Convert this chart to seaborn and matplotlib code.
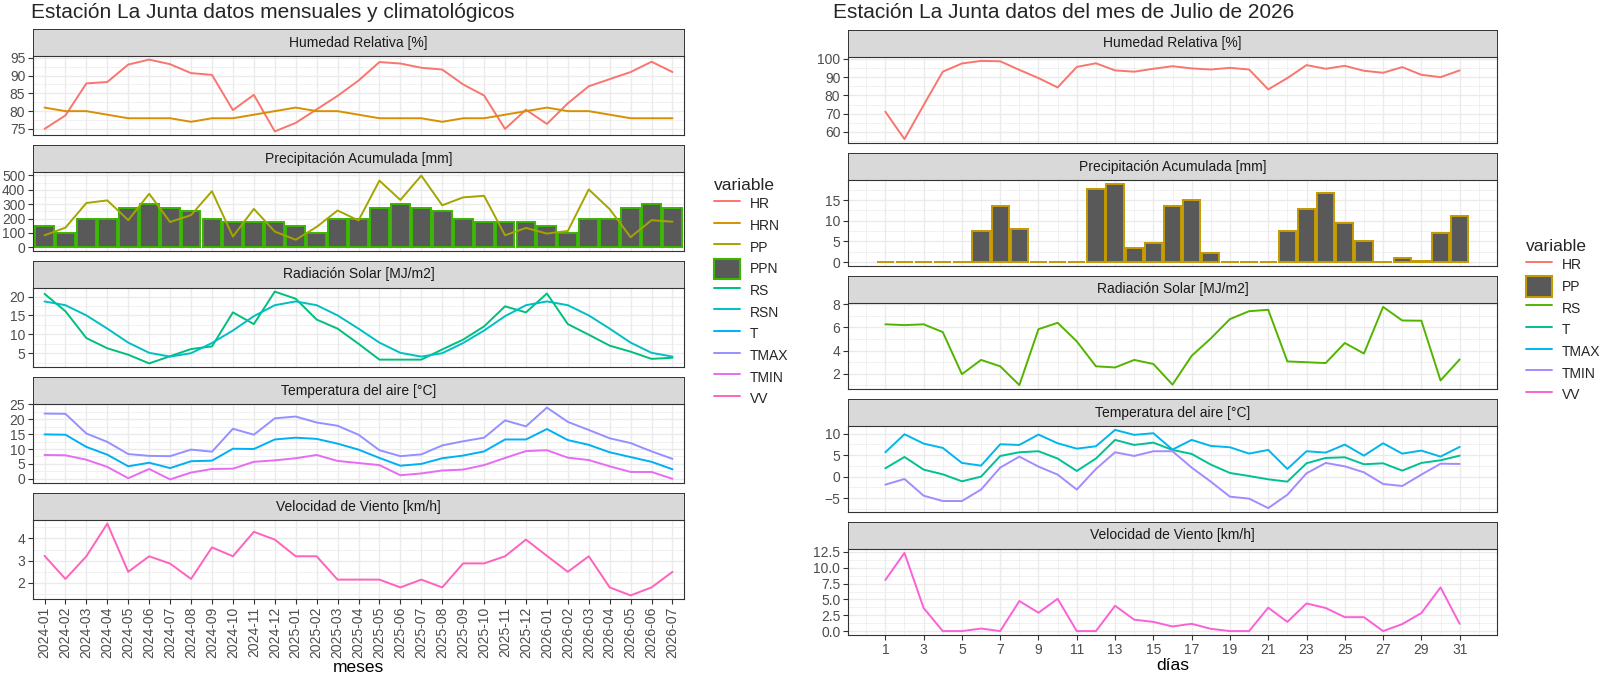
import matplotlib
matplotlib.use("Agg")
import pandas as pd
import matplotlib.pyplot as plt
import matplotlib.patches as mpatches
from matplotlib.lines import Line2D
from matplotlib.ticker import MultipleLocator, FormatStrFormatter
import seaborn as sns

sns.set_style("whitegrid")
plt.rcParams['font.family'] = ['Liberation Sans', 'DejaVu Sans']

# ------------------------------
# datos mensuales (izquierda)
# ------------------------------
meses = ['2024-01', '2024-02', '2024-03', '2024-04', '2024-05', '2024-06', '2024-07',
         '2024-08', '2024-09', '2024-10', '2024-11', '2024-12', '2025-01', '2025-02',
         '2025-03', '2025-04', '2025-05', '2025-06', '2025-07', '2025-08', '2025-09',
         '2025-10', '2025-11', '2025-12', '2026-01', '2026-02', '2026-03', '2026-04',
         '2026-05', '2026-06', '2026-07']

hr = [75.0, 78.8, 87.8, 88.2, 93.1, 94.5, 93.2, 90.7, 90.2, 80.3, 84.6, 74.3, 76.7, 80.5,
      84.3, 88.6, 93.8, 93.4, 92.2, 91.7, 87.5, 84.4, 75.0, 80.4, 76.4, 82.2, 87.0, 89.0,
      91.0, 93.9, 91.0]
hrn = [81, 80, 80, 79, 78, 78, 78, 77, 78, 78, 79, 80, 81, 80, 80, 79, 78, 78, 78, 77, 78,
       78, 79, 80, 81, 80, 80, 79, 78, 78, 78]
pp = [84, 137, 308, 326, 189, 372, 176, 224, 390, 75, 267, 110, 53, 142, 256, 187, 463,
      329, 498, 292, 347, 358, 84, 135, 96, 114, 402, 265, 71, 189, 178]
ppn = [150, 100, 200, 200, 275, 300, 275, 250, 200, 175, 175, 175, 150, 100, 200, 200, 275,
       300, 275, 250, 200, 175, 175, 175, 150, 100, 200, 200, 275, 300, 275]
rs = [20.7, 16.1, 9.0, 6.3, 4.6, 2.3, 4.2, 6.1, 6.8, 15.8, 12.7, 21.3, 19.4, 13.9, 11.5,
      7.5, 3.3, 3.3, 3.3, 6.0, 8.6, 12.1, 17.4, 15.8, 20.8, 12.7, 9.9, 7.0, 5.4, 3.5, 3.8]
rsn = [18.7, 17.7, 15.0, 11.5, 7.8, 5.1, 4.1, 5.0, 7.7, 11.0, 14.8, 17.7, 18.7, 17.7, 15.0,
       11.5, 7.8, 5.1, 4.1, 5.0, 7.7, 11.0, 14.8, 17.7, 18.7, 17.7, 15.0, 11.5, 7.8, 5.1, 4.1]
t_mes = [14.9, 14.8, 10.7, 8.1, 4.2, 5.4, 3.6, 5.9, 6.1, 10.1, 10.0, 13.2, 13.8, 13.4, 11.8,
         9.8, 7.0, 4.4, 5.0, 6.9, 7.8, 9.2, 13.2, 13.2, 16.7, 13.0, 11.4, 8.9, 7.3, 5.7, 3.2]
tmax_mes = [21.9, 21.8, 15.2, 12.4, 8.3, 7.7, 7.6, 9.8, 9.1, 16.8, 14.8, 20.3, 20.9, 18.9,
            17.8, 14.8, 9.6, 7.6, 8.2, 11.2, 12.6, 13.8, 19.6, 17.6, 23.9, 19.1, 16.4, 13.6,
            12.0, 9.2, 6.7]
tmin_mes = [8.0, 7.9, 6.4, 4.0, 0.2, 3.3, -0.2, 2.1, 3.3, 3.4, 5.7, 6.2, 6.9, 8.0, 6.0, 5.3,
            4.6, 1.2, 1.8, 2.8, 3.1, 4.6, 7.0, 9.3, 9.6, 7.1, 6.3, 4.2, 2.3, 2.3, 0.0]
vv_mes = [3.22, 2.18, 3.2, 4.67, 2.5, 3.2, 2.87, 2.18, 3.6, 3.2, 4.3, 3.95, 3.2, 3.2, 2.15,
          2.15, 2.15, 1.8, 2.15, 1.8, 2.88, 2.88, 3.2, 3.95, 3.22, 2.5, 3.2, 1.8, 1.44, 1.8, 2.5]

# ------------------------------
# datos diarios julio 2026 (derecha)
# ------------------------------
dias = list(range(1, 32))

hr_dia = [71.1, 56.1, 74.7, 93.0, 97.5, 98.9, 98.7, 94.0, 89.5, 84.4, 95.6, 97.6, 93.7, 93.0,
          94.6, 96.0, 94.8, 94.2, 95.1, 94.2, 83.3, 89.5, 96.6, 94.6, 96.2, 93.5, 92.4, 95.5,
          91.3, 90.0, 93.7]
pp_dia = [0.0, 0.0, 0.0, 0.0, 0.1, 7.6, 13.6, 8.0, 0.0, 0.0, 0.0, 17.6, 18.9, 3.5, 4.6, 13.6,
          15.1, 2.2, 0.1, 0.1, 0.0, 7.6, 12.8, 16.8, 9.5, 5.0, 0.0, 1.0, 0.3, 7.1, 11.1]
rs_dia = [6.27, 6.2, 6.27, 5.6, 1.97, 3.2, 2.65, 1.03, 5.85, 6.4, 4.8, 2.65, 2.55, 3.2, 2.85,
          1.07, 3.55, 5.05, 6.72, 7.4, 7.52, 3.07, 3.0, 2.93, 4.66, 3.75, 7.77, 6.6, 6.58,
          1.43, 3.24]
t_dia = [1.94, 4.57, 1.63, 0.54, -1.08, 0.0, 4.8, 5.66, 5.9, 4.2, 1.32, 4.2, 8.53, 7.36, 7.9,
         6.2, 5.27, 2.8, 0.85, 0.15, -0.62, -1.16, 3.1, 4.34, 4.5, 2.87, 3.1, 1.4, 3.18, 3.8,
         4.88]
tmax_dia = [5.66, 9.84, 7.67, 6.67, 3.18, 2.56, 7.52, 7.36, 9.77, 7.75, 6.5, 7.05, 10.85, 9.7,
            10.08, 6.28, 8.53, 7.13, 6.82, 5.35, 6.2, 1.78, 5.9, 5.58, 7.44, 4.88, 7.75, 5.35,
            6.05, 4.65, 6.9]
tmin_dia = [-1.86, -0.54, -4.42, -5.66, -5.66, -3.0, 2.1, 4.65, 2.33, 0.47, -3.0, 1.78, 5.66,
            4.8, 5.9, 5.9, 2.1, -1.16, -4.65, -5.1, -7.3, -4.2, 0.78, 3.18, 2.4, 1.0, -1.7,
            -2.17, 0.47, 3.0, 2.95]
vv_dia = [8.07, 12.35, 3.65, 0.0, 0.0, 0.4, 0.0, 4.75, 2.9, 5.1, 0.0, 0.0, 4.0, 1.8, 1.45,
          0.73, 1.15, 0.36, 0.0, 0.0, 3.7, 1.45, 4.37, 3.65, 2.2, 2.2, 0.0, 1.1, 2.85, 6.9, 1.15]

vars_izq = ['HR', 'HRN', 'PP', 'PPN', 'RS', 'RSN', 'T', 'TMAX', 'TMIN', 'VV']
pal_izq = dict(zip(vars_izq, ["#F8766D", "#D89000", "#A3A500", "#39B600", "#00BF7D",
                              "#00BFC4", "#00B0F6", "#9590FF", "#E76BF3", "#FF62BC"]))
vars_der = ['HR', 'PP', 'RS', 'T', 'TMAX', 'TMIN', 'VV']
pal_der = dict(zip(vars_der, ["#F8766D", "#C49A00", "#53B400", "#00C094", "#00B6EB",
                              "#A58AFF", "#FB61D7"]))

facetas = ['Humedad Relativa [%]', 'Precipitación Acumulada [mm]', 'Radiación Solar [MJ/m2]',
           'Temperatura del aire [°C]', 'Velocidad de Viento [km/h]']


def largo(x, series):
    rows = []
    for name, vals in series.items():
        for xi, v in zip(x, vals):
            rows.append({'x': xi, 'variable': name, 'valor': v})
    return pd.DataFrame(rows)


x_mes = list(range(len(meses)))
izq = [
    (largo(x_mes, {'HR': hr, 'HRN': hrn}), None, [75, 80, 85, 90, 95]),
    (largo(x_mes, {'PP': pp}), largo(x_mes, {'PPN': ppn}), [0, 100, 200, 300, 400, 500]),
    (largo(x_mes, {'RS': rs, 'RSN': rsn}), None, [5, 10, 15, 20]),
    (largo(x_mes, {'T': t_mes, 'TMAX': tmax_mes, 'TMIN': tmin_mes}), None, [0, 5, 10, 15, 20, 25]),
    (largo(x_mes, {'VV': vv_mes}), None, [2, 3, 4]),
]
der = [
    (largo(dias, {'HR': hr_dia}), None, [60, 70, 80, 90, 100]),
    (None, largo(dias, {'PP': pp_dia}), [0, 5, 10, 15]),
    (largo(dias, {'RS': rs_dia}), None, [2, 4, 6, 8]),
    (largo(dias, {'T': t_dia, 'TMAX': tmax_dia, 'TMIN': tmin_dia}), None, [-5, 0, 5, 10]),
    (largo(dias, {'VV': vv_dia}), None, [0, 2.5, 5, 7.5, 10, 12.5]),
]

W, H = 1600, 676
fig = plt.figure(figsize=(W / 100, H / 100), dpi=100)


def px(x0, y0, x1, y1):
    return [x0 / W, 1 - y1 / H, (x1 - x0) / W, (y1 - y0) / H]


def faceta(x0, x1, y_strip, y_top, y_bot, titulo, lineas, barras, pal, borde, yticks, xlim):
    s = fig.add_axes(px(x0, y_strip, x1, y_top))
    s.set_facecolor('#D9D9D9')
    s.set_xticks([])
    s.set_yticks([])
    s.grid(False)
    for sp in s.spines.values():
        sp.set_color('#333333')
        sp.set_linewidth(0.7)
    s.text(0.5, 0.5, titulo, ha='center', va='center', fontsize=10, color='#1A1A1A',
           transform=s.transAxes)

    ax = fig.add_axes(px(x0, y_top, x1, y_bot))
    ax.set_facecolor('white')
    ax.set_axisbelow(True)
    vals = []
    if barras is not None:
        sns.barplot(data=barras, x='x', y='valor', native_scale=True, color='#595959',
                    saturation=1, edgecolor=borde, linewidth=1.4, width=0.9,
                    errorbar=None, ax=ax, zorder=2)
        vals += list(barras['valor']) + [0]
    if lineas is not None:
        sns.lineplot(data=lineas, x='x', y='valor', hue='variable', palette=pal,
                     errorbar=None, legend=False, linewidth=1.4, ax=ax, zorder=3)
        vals += list(lineas['valor'])
    lo, hi = min(vals), max(vals)
    pad = 0.05 * (hi - lo)
    ax.set_ylim(lo - pad, hi + pad)
    ax.set_xlim(*xlim)
    ax.set_yticks(yticks)
    paso = yticks[1] - yticks[0]
    ax.yaxis.set_minor_locator(MultipleLocator(paso / 2))
    ax.grid(which='major', color='#EBEBEB', linewidth=1.0)
    ax.grid(which='minor', color='#EBEBEB', linewidth=0.5)
    for sp in ax.spines.values():
        sp.set_color('#333333')
        sp.set_linewidth(0.8)
    ax.tick_params(axis='y', which='major', length=3.5, width=0.8, color='#333333',
                   labelcolor='#4D4D4D', labelsize=10, pad=2, left=True)
    ax.tick_params(axis='both', which='minor', length=0)
    ax.set_xlabel('')
    ax.set_ylabel('')
    return ax


# ------------------------------
# izquierda: mensual
# ------------------------------
tops_izq = [29, 145, 261, 377, 493]
for i, (lineas, barras, yt) in enumerate(izq):
    y0 = tops_izq[i]
    ax = faceta(33, 684, y0, y0 + 27, y0 + 106, facetas[i], lineas, barras, pal_izq,
                '#39B600', yt, (-0.55, 30.55))
    ax.set_xticks(x_mes)
    if i < 4:
        ax.tick_params(axis='x', which='major', length=0, labelbottom=False)
    else:
        ax.set_xticklabels(meses, rotation=90)
        ax.tick_params(axis='x', which='major', length=3.5, width=0.8, color='#333333',
                       labelcolor='#4D4D4D', labelsize=10, pad=2, bottom=True)
        ax.set_xlabel('meses', fontsize=12.5, color='black', labelpad=1)

# ------------------------------
# derecha: diario
# ------------------------------
tops_der = [30, 153, 276, 399, 522]
for i, (lineas, barras, yt) in enumerate(der):
    y0 = tops_der[i]
    ax = faceta(848, 1497, y0, y0 + 27, y0 + 113, facetas[i], lineas, barras, pal_der,
                '#C49A00', yt, (-0.95, 32.95))
    ax.set_xticks(range(1, 32, 2))
    ax.set_xticks(range(0, 33, 2), minor=True)
    if i == 4:
        ax.yaxis.set_major_formatter(FormatStrFormatter('%.1f'))
        ax.tick_params(axis='x', which='major', length=3.5, width=0.8, color='#333333',
                       labelcolor='#4D4D4D', labelsize=10, pad=2, bottom=True)
        ax.set_xlabel('días', fontsize=12.5, color='black', labelpad=1)
    else:
        ax.tick_params(axis='x', which='major', length=0, labelbottom=False)

# titulos
fig.text(31 / W, 1 - 18 / H, 'Estación La Junta datos mensuales y climatológicos',
         fontsize=15, va='baseline', ha='left')
fig.text(833 / W, 1 - 18 / H, 'Estación La Junta datos del mes de Julio de 2026',
         fontsize=15, va='baseline', ha='left')


# leyendas
def leyenda(variables, pal, barra, x, y):
    handles = []
    for v in variables:
        if v == barra:
            handles.append(mpatches.Patch(facecolor='#595959', edgecolor=pal[v], linewidth=1.5, label=v))
        else:
            handles.append(Line2D([], [], color=pal[v], linewidth=1.4, label=v))
    fig.legend(handles=handles, title='variable', loc='upper left',
               bbox_to_anchor=(x / W, 1 - y / H), frameon=False, fontsize=10,
               title_fontsize=12.5, handlelength=1.9, handleheight=1.9,
               labelspacing=0.08, handletextpad=0.7, alignment='left', borderaxespad=0)


leyenda(vars_izq, pal_izq, 'PPN', 708, 172)
leyenda(vars_der, pal_der, 'PP', 1520, 233)

fig.savefig('out.png', dpi=100)
